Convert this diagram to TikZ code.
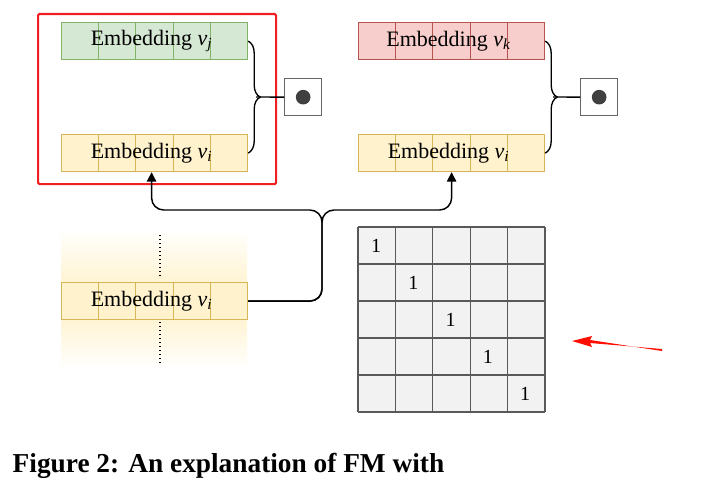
\documentclass[tikz,border=0pt]{standalone}
\usepackage{fontspec}
\setmainfont{Liberation Serif}
\usetikzlibrary{arrows.meta,decorations.pathreplacing,calc,shadings}
\begin{document}
\begin{tikzpicture}[x=0.75pt,y=-0.75pt,
  conn/.style={line width=1.1pt,rounded corners=9pt},
  br/.style={decorate,decoration={brace,amplitude=9pt},line width=1pt},
  dotbox/.style={draw=gray!80!black,line width=1pt,fill=white,minimum size=27.75pt,inner sep=0pt}]
\definecolor{gfill}{HTML}{D5E8D4}\definecolor{yfill}{HTML}{FFF2CC}\definecolor{rfill}{HTML}{F8CECC}
\definecolor{gline}{HTML}{82B366}\definecolor{yline}{HTML}{D6B656}\definecolor{rline}{HTML}{B85450}
\useasboundingbox (0,0) rectangle (707,492);
\shade[top color=white,bottom color=yfill] (61,228) rectangle (247,290);
\fill[yfill] (61,289) rectangle (247,312);
\shade[top color=yfill,bottom color=white] (61,311) rectangle (247,370);
\draw[line width=1pt,dotted] (160,235) -- (160,276);
\draw[line width=1pt,dotted] (160,322) -- (160,363);
\newcommand{\embrow}[6]{%
  \node[draw=#5,fill=#4,line width=0.9pt,minimum width=139.5pt,minimum height=27.75pt,inner sep=0pt,anchor=north west] (#1) at (#2,#3) {};
  \foreach \k in {1,...,4}{\draw[#5,line width=0.8pt] ($(#1.north west)!\k/5!(#1.north east)$) -- ($(#1.south west)!\k/5!(#1.south east)$);}
  \node[font=\fontsize{16.5}{17}\selectfont] at ($(#1.center)+(-3,0)$) {Embedding \textit{v}\textsubscript{\textit{#6}}};}
\embrow{ej}{61}{22}{gfill}{gline}{j}
\embrow{ei1}{61}{134}{yfill}{yline}{i}
\embrow{ek}{358}{22}{rfill}{rline}{k}
\embrow{ei2}{358}{134}{yfill}{yline}{i}
\embrow{ei0}{61}{282}{yfill}{yline}{i}
\node[draw={rgb,255:red,240;green,30;blue,30},line width=1.6pt,rounded corners=1pt,minimum width=178.5pt,minimum height=127.5pt,anchor=north west,inner sep=0pt] (redbox) at (37,13) {};
\draw[br] (ej.east) -- (ei1.east);
\draw[br] (ek.east) -- (ei2.east);
\node[dotbox,anchor=north west] (d1) at (284,78) {};
\node[dotbox,anchor=north west] (d2) at (580,78) {};
\fill[black!75] (d1.center) circle (5.5pt);
\fill[black!75] (d2.center) circle (5.5pt);
\draw[line width=1pt] (256,97) -- (d1.west);
\draw[line width=1pt] (553,97) -- (d2.west);
\coordinate (j) at (322,210);
\draw[conn,-{Triangle[length=7pt,width=7pt]}] (ei0.east) -| (j) -| ($(ei1.south)+(-3,0)$);
\draw[conn,-{Triangle[length=7pt,width=7pt]}] (ei0.east) -| (j) -| (ei2.south);
\fill[black!5] (358,227) rectangle (545,412);
\foreach \k in {0,...,5}{
  \draw[black!65,line width=0.9pt] ({358+37.4*\k},227) -- ({358+37.4*\k},412);
  \draw[black!65,line width=0.9pt] (358,{227+37*\k}) -- (545,{227+37*\k});}
\foreach \k in {0,...,4}{\node[font=\fontsize{15}{16}\selectfont] (one\k) at ({376+37.3*\k},{246+37*\k}) {1};}
\fill[red!90!orange] (662,349) -- (590,343) -- (592,347) -- (572,341) -- (592,336) -- (590,340) -- (662,351) -- cycle;
\node[anchor=west,font=\fontsize{20.5}{22}\selectfont\bfseries] (cap) at (8,466) {Figure 2: An explanation of FM with};
\end{tikzpicture}
\end{document}
